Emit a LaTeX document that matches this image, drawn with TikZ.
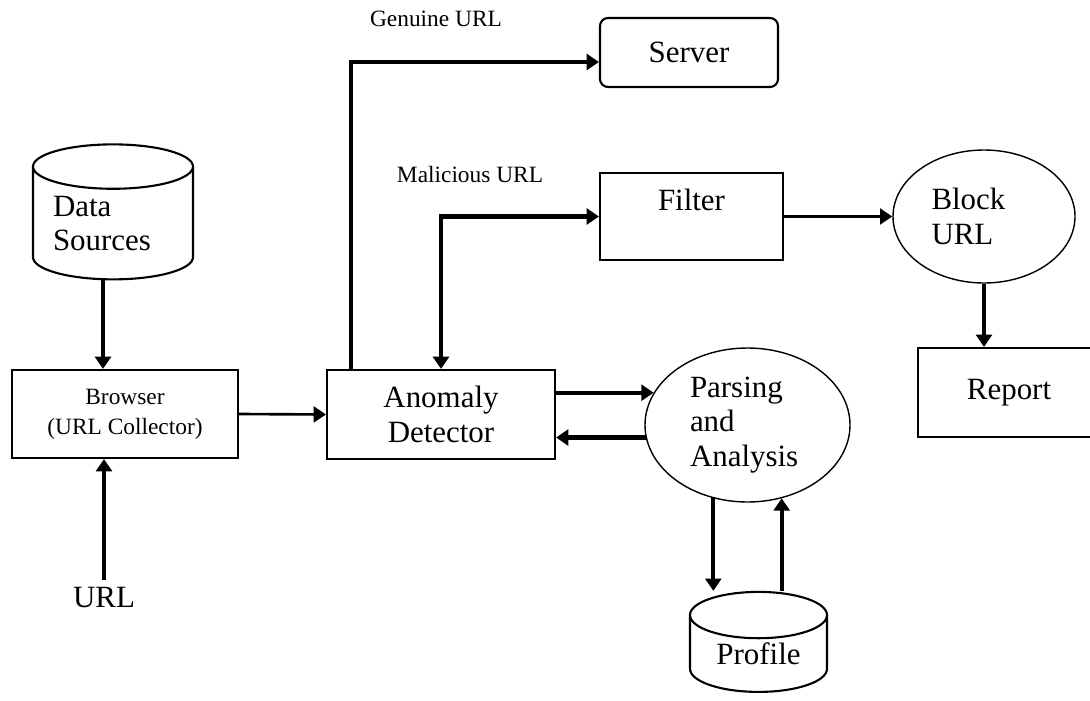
\documentclass[tikz,border=0pt]{standalone}
\usepackage{fontspec}
\setmainfont{Liberation Serif}
\usetikzlibrary{shapes,arrows.meta,positioning,calc}

\newcommand{\bigtxt}{\fontsize{17.6}{19.5}\selectfont}
\newcommand{\smalltxt}{\fontsize{13.3}{17}\selectfont}

\begin{document}
\begin{tikzpicture}[
  >={Triangle[length=7pt,width=9pt]},
  procbox/.style={rectangle, draw, line width=1.2pt, align=center, font=\bigtxt, inner sep=0pt},
  oval/.style={ellipse, draw, line width=0.8pt, align=left, font=\bigtxt, inner sep=0pt},
  store/.style={cylinder, shape border rotate=90, draw, line width=1.2pt, font=\bigtxt, inner sep=0pt},
  arr/.style={->, line width=2.4pt},
  thinarr/.style={->, line width=1.5pt},
  lbl/.style={font=\smalltxt, inner sep=1pt}
]
  \useasboundingbox (0,0) rectangle (21.8,-14);

  \node[store, aspect=0.37, minimum width=3.2cm, minimum height=2.7cm, text width=2.4cm, align=left] (data) at (2.26,-4.47) {Data\\Sources};
  \node[procbox, minimum width=4.52cm, minimum height=1.76cm, font=\smalltxt] (browser) at (2.5,-8.28) {Browser\\(URL Collector)};
  \node[font=\bigtxt, inner sep=4pt] (url) at (2.08,-11.96) {URL};
  \node[procbox, minimum width=4.56cm, minimum height=1.78cm] (anomaly) at (8.82,-8.29) {Anomaly\\Detector};
  \node[procbox, rounded corners=0.16cm, minimum width=3.56cm, minimum height=1.38cm] (server) at (13.78,-1.05) {Server};
  \node[procbox, minimum width=3.66cm, minimum height=1.74cm] (filter) at (13.83,-4.33) {Filter\\\mbox{}};
  \node[oval, minimum width=3.64cm, minimum height=2.66cm, text width=2.1cm] (block) at (19.68,-4.33) {Block\\URL};
  \node[procbox, minimum width=3.64cm, minimum height=1.78cm] (report) at (20.18,-7.85) {Report};
  \node[oval, minimum width=4.1cm, minimum height=3.08cm, text width=2.3cm] (parsing) at (14.95,-8.5) {Parsing\\and\\Analysis};
  \node[store, aspect=0.55, minimum width=2.74cm, minimum height=2.0cm] (profile) at (15.17,-13.08) {Profile};

  \node[lbl] (genuine) at (8.72,-0.38) {Genuine URL};
  \node[lbl] (malicious) at (9.4,-3.5) {Malicious URL};

  % connectors
  \draw[arr] ([xshift=-0.2cm]data.south) -- ([xshift=-0.2cm]data.south |- browser.north);
  \draw[arr] (url.north) -- (url.north |- browser.south);
  \draw[thinarr] (browser.east) -- (anomaly.west);
  \draw[arr, line width=2pt] ([xshift=0.5cm]anomaly.north west) |- ([yshift=-0.19cm]server.west);
  \draw[arr, <->] (filter.west) -| (anomaly.north);
  \draw[thinarr] (filter.east) -- (block.west);
  \draw[arr] (block.south) -- (block.south |- report.north);
  \draw[arr] (anomaly.east |- parsing.161) -- (parsing.161);
  \draw[arr] (parsing.187) -- (anomaly.east |- parsing.187);
  \draw[arr] (parsing.245) -- (parsing.245 |- profile.north);
  \draw[arr] (parsing.295 |- profile.north) -- (parsing.295);
\end{tikzpicture}
\end{document}
